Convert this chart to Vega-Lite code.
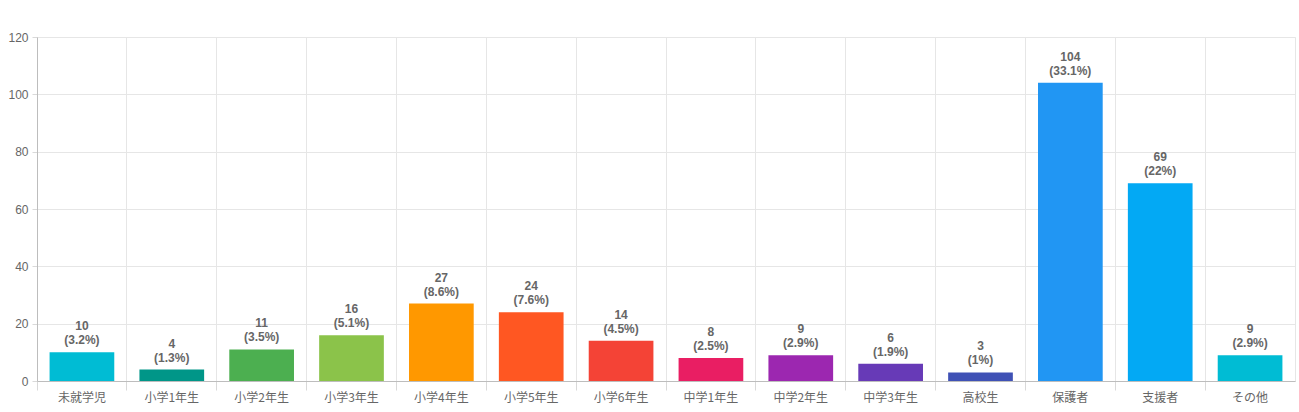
{
  "$schema": "https://vega.github.io/schema/vega-lite/v6.json",
  "autosize": {"type": "none"},
  "padding": {"left": 37, "top": 37, "right": 4, "bottom": 31},
  "width": 1258,
  "height": 344,
  "background": "white",
  "config": {
    "font": "Liberation Sans",
    "view": {"stroke": "#e6e6e6"},
    "axis": {"labelColor": "#666666", "labelFontSize": 12, "gridColor": "#e6e6e6", "tickColor": "#d9d9d9"}
  },
  "data": {
    "values": [
      {"group": "未就学児", "count": 10, "pct": "(3.2%)"},
      {"group": "小学1年生", "count": 4, "pct": "(1.3%)"},
      {"group": "小学2年生", "count": 11, "pct": "(3.5%)"},
      {"group": "小学3年生", "count": 16, "pct": "(5.1%)"},
      {"group": "小学4年生", "count": 27, "pct": "(8.6%)"},
      {"group": "小学5年生", "count": 24, "pct": "(7.6%)"},
      {"group": "小学6年生", "count": 14, "pct": "(4.5%)"},
      {"group": "中学1年生", "count": 8, "pct": "(2.5%)"},
      {"group": "中学2年生", "count": 9, "pct": "(2.9%)"},
      {"group": "中学3年生", "count": 6, "pct": "(1.9%)"},
      {"group": "高校生", "count": 3, "pct": "(1%)"},
      {"group": "保護者", "count": 104, "pct": "(33.1%)"},
      {"group": "支援者", "count": 69, "pct": "(22%)"},
      {"group": "その他", "count": 9, "pct": "(2.9%)"}
    ]
  },
  "encoding": {
    "x": {
      "field": "group",
      "type": "nominal",
      "sort": null,
      "title": null,
      "scale": {"paddingInner": 0, "paddingOuter": 0},
      "axis": {
        "labelAngle": 0,
        "bandPosition": 0,
        "grid": true,
        "tickSize": 9,
        "labelPadding": 2,
        "labelFont": "Noto Sans CJK JP",
        "domainColor": "#bdbdbd"
      }
    },
    "y": {
      "field": "count",
      "type": "quantitative",
      "title": null,
      "scale": {"domain": [0, 120]},
      "axis": {
        "values": [0, 20, 40, 60, 80, 100, 120],
        "tickSize": 5,
        "labelPadding": 4,
        "domainColor": "#bdbdbd"
      }
    }
  },
  "layer": [
    {
      "mark": {"type": "bar", "width": {"band": 0.72}},
      "encoding": {
        "color": {
          "field": "group",
          "type": "nominal",
          "legend": null,
          "scale": {
            "domain": ["未就学児", "小学1年生", "小学2年生", "小学3年生", "小学4年生", "小学5年生", "小学6年生", "中学1年生", "中学2年生", "中学3年生", "高校生", "保護者", "支援者", "その他"],
            "range": ["#00BCD4", "#009688", "#4CAF50", "#8BC34A", "#FF9800", "#FF5722", "#F44336", "#E91E63", "#9C27B0", "#673AB7", "#3F51B5", "#2196F3", "#03A9F4", "#00BCD4"]
          }
        }
      }
    },
    {
      "mark": {"type": "text", "baseline": "bottom", "dy": -5, "fontSize": 12, "fontWeight": "bold", "color": "#666666"},
      "encoding": {"text": {"field": "pct"}}
    },
    {
      "mark": {"type": "text", "baseline": "bottom", "dy": -19, "fontSize": 12, "fontWeight": "bold", "color": "#666666"},
      "encoding": {"text": {"field": "count", "type": "quantitative"}}
    }
  ]
}
